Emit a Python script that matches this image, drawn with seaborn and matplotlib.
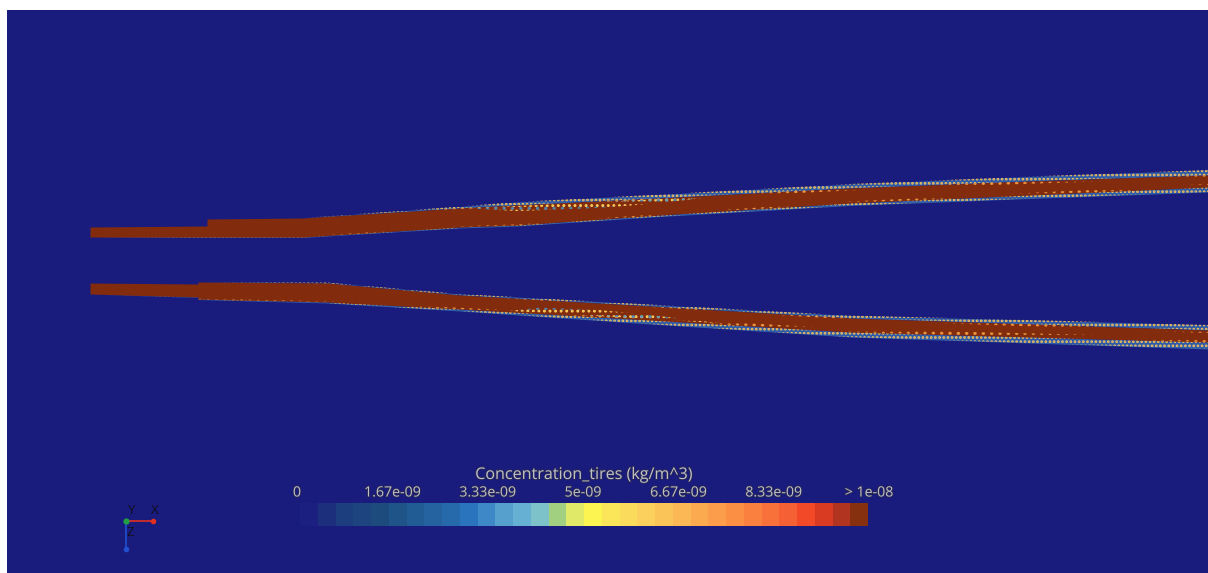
import numpy as np
import matplotlib
matplotlib.use("Agg")
import matplotlib.pyplot as plt
from matplotlib.colors import ListedColormap
import matplotlib.patheffects as pe
import seaborn as sns

sns.set_theme(style="white")
plt.rcParams["font.family"] = ["Open Sans", "DejaVu Sans"]
plt.rcParams["hatch.linewidth"] = 1.3

# Discrete colour table of the concentration legend (low -> high)
bin_colors = [
    "#1b2080", "#1c2f7d", "#1c3d7e", "#1d447f", "#1e4b7d", "#1f5488", "#225c94", "#2463a0",
    "#276aab", "#2a74bd", "#3f88c8", "#55a0cc", "#66b0d4", "#7cc2c8", "#a0d080", "#e0e968",
    "#fcf551", "#fbe65a", "#fbdb5c", "#fbd05c", "#fbc459", "#fbb855", "#fbaa50", "#fb9d4a",
    "#fb9045", "#fa8040", "#f8703a", "#f56035", "#f24a28", "#d93a22", "#b03420", "#86300f",
]
tick_labels = ["0", "1.67e-09", "3.33e-09", "5e-09", "6.67e-09", "8.33e-09", "> 1e-08"]
legend_title = "Concentration_tires (kg/m^3)"

background = "#191b7d"
plume_core = "#832b0d"

# Upper plume: core edges along the domain (domain units)
up_x      = [90, 207, 207, 303, 460, 517, 660, 850, 1030, 1208]
up_top    = [227, 226, 219, 218, 208, 205, 198, 188, 181, 175]
up_bottom = [237, 237, 237, 237, 227, 225, 215, 203, 195, 187]
up_fuzz_top = [0, 0, 0, 0, 1.5, 3, 3.5, 4, 4.5, 5]
up_fuzz_bot = [0, 0.5, 0.5, 0.5, 1, 1, 1.5, 2.5, 3.5, 5]
# Mixing zone inside the upper core (top side)
up_mix_x = [470, 517, 600, 660, 720]
up_mix_d = [0, 5, 6, 4, 0]

# Lower plume: core edges
lo_x      = [90, 198, 198, 327, 460, 650, 850, 1030, 1208]
lo_top    = [283, 284, 282, 283, 295, 306, 318, 324, 330]
lo_bottom = [294, 297, 299, 302, 309, 320, 332, 337, 342]
lo_fuzz_top = [0, 0, 0, 0.5, 1, 1.5, 2.5, 4, 5]
lo_fuzz_bot = [0, 0.5, 0.5, 1, 2, 4, 5, 6, 7]
# Mixing zone inside the lower core (bottom side)
lo_mix_x = [510, 540, 600, 650, 720]
lo_mix_d = [0, 5, 6, 4, 0]

W, H = 1208, 573
fig = plt.figure(figsize=(W / 100, H / 100), dpi=100, facecolor="white")

ax = fig.add_axes([7 / W, 0, (W - 7) / W, (H - 10) / H])
ax.set_facecolor(background)
ax.set_xlim(7, W)
ax.set_ylim(H, 10)
ax.set_axis_off()
ax.add_patch(plt.Rectangle((7, 10), W, H, color=background, zorder=0))


def draw_plume(x, top, bottom, fuzz_top, fuzz_bot, mix_x, mix_d, mix_on_top):
    x = np.asarray(x, float)
    top = np.asarray(top, float)
    bottom = np.asarray(bottom, float)
    ft = np.asarray(fuzz_top, float)
    fb = np.asarray(fuzz_bot, float)
    # mixed, partially diluted fringe outside the core
    for lo, hi in ((top - ft, top), (bottom, bottom + fb)):
        ax.fill_between(x, lo, hi, facecolor="#3f88c8", alpha=0.6, lw=0, zorder=2)
        ax.fill_between(x, lo, hi, facecolor="none", edgecolor="#fbc459",
                        hatch="....", lw=0, zorder=3)
    # saturated core
    ax.fill_between(x, top, bottom, facecolor=plume_core, lw=0, zorder=4)
    # speckled mixing just inside the core edge
    ax.fill_between(x, top, top + ft * 0.6, facecolor="none", edgecolor="#f8a040",
                    hatch="..", lw=0, zorder=5, alpha=0.8)
    ax.fill_between(x, bottom - fb * 0.6, bottom, facecolor="none", edgecolor="#f8a040",
                    hatch="..", lw=0, zorder=5, alpha=0.8)
    # patch of diluted fluid entrained into the core
    mx = np.asarray(mix_x, float)
    md = np.asarray(mix_d, float)
    if mix_on_top:
        edge = np.interp(mx, x, top)
        lo, hi = edge + 1, edge + 1 + md
    else:
        edge = np.interp(mx, x, bottom)
        lo, hi = edge - 1 - md, edge - 1
    ax.fill_between(mx, lo, hi, facecolor="none", edgecolor="#fbd05c",
                    hatch="...", lw=0, zorder=6)
    ax.fill_between(mx, lo, hi, facecolor="none", edgecolor="#4a96cc",
                    hatch="..", lw=0, zorder=6, alpha=0.7)


draw_plume(up_x, up_top, up_bottom, up_fuzz_top, up_fuzz_bot, up_mix_x, up_mix_d, True)
draw_plume(lo_x, lo_top, lo_bottom, lo_fuzz_top, lo_fuzz_bot, lo_mix_x, lo_mix_d, False)

# Concentration legend drawn as a one-row heatmap
cax = fig.add_axes([300 / W, (H - 526) / H, 568 / W, 23 / H])
n_bins = len(bin_colors)
sns.heatmap(np.arange(n_bins).reshape(1, -1), ax=cax, cmap=ListedColormap(bin_colors),
            vmin=-0.5, vmax=n_bins - 0.5, cbar=False, xticklabels=False,
            yticklabels=False, linewidths=0)
cax.set_axis_off()
text_color = "#bfc0ca"
shadow = [pe.withStroke(linewidth=1.2, foreground="#2a2a50")]
for i, lab in enumerate(tick_labels):
    fx = (297 + 572 * i / (len(tick_labels) - 1)) / W
    fig.text(fx, (H - 493) / H, lab, ha="center", va="center", fontsize=10.2,
             color=text_color, path_effects=shadow)
fig.text(584 / W, (H - 475) / H, legend_title, ha="center", va="center",
         fontsize=11.6, color=text_color, path_effects=shadow)

# Orientation triad
tax = fig.add_axes([0, 0, 1, 1], facecolor="none")
tax.set_xlim(0, W)
tax.set_ylim(H, 0)
tax.set_axis_off()
tax.plot([126, 153], [521, 521], color="#e03020", lw=1.2)
tax.plot([126, 126], [521, 549], color="#2050d0", lw=1.2)
tax.plot([153], [521], "o", color="#e03020", ms=3)
tax.plot([126], [549], "o", color="#2050d0", ms=3)
tax.plot([126], [521], "o", color="#20a040", ms=3.5)
for lab, (px, py) in {"Y": (131, 510), "X": (155, 510), "Z": (130, 533)}.items():
    tax.text(px, py, lab, ha="center", va="center", fontsize=9.5, color="#10101c")

fig.savefig("out.png", dpi=100, facecolor="white")
